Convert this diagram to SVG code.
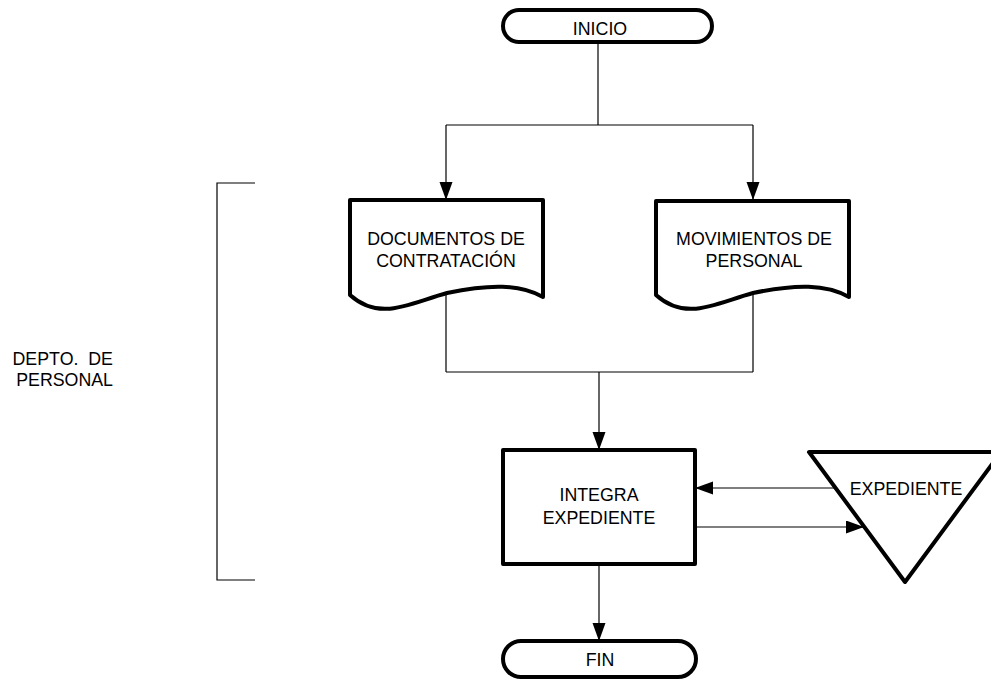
<svg xmlns="http://www.w3.org/2000/svg" width="991" height="681" viewBox="0 0 991 681">
<style>
.shape{fill:#fff;stroke:#000;stroke-width:4;stroke-linejoin:round}
.conn{fill:none;stroke:#000;stroke-width:1.2}
.t{font-family:"Liberation Sans",Arial,sans-serif;font-size:17.8px;fill:#000;text-anchor:middle}
</style>
<defs>
<marker id="arr" markerUnits="userSpaceOnUse" markerWidth="19" markerHeight="14" refX="18" refY="6.5" orient="auto">
<path d="M0,0 L18,6.5 L0,13 z" fill="#000"/>
</marker>
</defs>
<rect width="991" height="681" fill="#fff"/>
<g id="connectors">
<path class="conn" d="M598,42 V125"/>
<path class="conn" d="M446,125 H753"/>
<path class="conn" d="M446,125 V200" marker-end="url(#arr)"/>
<path class="conn" d="M753,125 V200" marker-end="url(#arr)"/>
<path class="conn" d="M446,290 V372 M753,290 V372 M446,372 H753"/>
<path class="conn" d="M599,372 V450" marker-end="url(#arr)"/>
<path class="conn" d="M836,488 H695" marker-end="url(#arr)"/>
<path class="conn" d="M695,527 H864" marker-end="url(#arr)"/>
<path class="conn" d="M599,564 V641" marker-end="url(#arr)"/>
</g>
<g id="bracket">
<path class="conn" d="M255,183 H217 V580 H255"/>
<text class="t" x="113" y="365" style="text-anchor:end" xml:space="preserve">DEPTO.  DE</text>
<text class="t" x="113" y="386" style="text-anchor:end">PERSONAL</text>
</g>
<g id="inicio">
<rect class="shape" x="503" y="10" width="209" height="32" rx="16"/>
<text class="t" x="600" y="35">INICIO</text>
</g>
<g id="doc1">
<path class="shape" d="M350,200 H543 V297 C520,284 490,284 447,293 C410,303 380,322 350,295 Z"/>
<text class="t" x="446" y="245">DOCUMENTOS DE</text>
<text class="t" x="446" y="267">CONTRATACIÓN</text>
</g>
<g id="doc2">
<path class="shape" d="M656,201 H849 V297 C826,284 796,284 753,293 C716,303 686,322 656,295 Z"/>
<text class="t" x="754" y="245">MOVIMIENTOS DE</text>
<text class="t" x="754" y="267">PERSONAL</text>
</g>
<g id="integra">
<rect class="shape" x="503" y="450" width="192" height="114"/>
<text class="t" x="599" y="501">INTEGRA</text>
<text class="t" x="599" y="524">EXPEDIENTE</text>
</g>
<g id="expediente">
<path class="shape" d="M809,452 H1001 L905,582 Z"/>
<text class="t" x="906" y="495">EXPEDIENTE</text>
</g>
<g id="fin">
<rect class="shape" x="503" y="641" width="193" height="36" rx="18"/>
<text class="t" x="600" y="666">FIN</text>
</g>
</svg>
